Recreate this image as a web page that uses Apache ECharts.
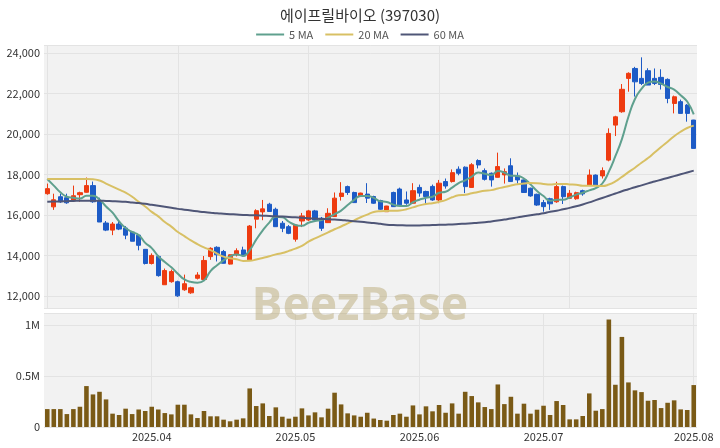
<!DOCTYPE html>
<html>
<head>
<meta charset="utf-8">
<script src="https://cdn.jsdelivr.net/npm/echarts@6/dist/echarts.min.js"></script>
<style>html,body{margin:0;padding:0;background:#fff}#c{width:720px;height:448px}</style>
</head>
<body>
<div id="c"></div>
<script>
const dates = [
'2025-03-10','2025-03-11','2025-03-12','2025-03-13','2025-03-14','2025-03-17','2025-03-18','2025-03-19','2025-03-20','2025-03-21',
'2025-03-24','2025-03-25','2025-03-26','2025-03-27','2025-03-28','2025-03-31',
'2025-04-01','2025-04-02','2025-04-03','2025-04-04','2025-04-07','2025-04-08','2025-04-09','2025-04-10','2025-04-11','2025-04-14',
'2025-04-15','2025-04-16','2025-04-17','2025-04-18','2025-04-21','2025-04-22','2025-04-23','2025-04-24','2025-04-25','2025-04-28',
'2025-04-29','2025-04-30',
'2025-05-02','2025-05-07','2025-05-08','2025-05-09','2025-05-12','2025-05-13','2025-05-14','2025-05-15','2025-05-16','2025-05-19',
'2025-05-20','2025-05-21','2025-05-22','2025-05-23','2025-05-26','2025-05-27','2025-05-28','2025-05-29','2025-05-30',
'2025-06-02','2025-06-04','2025-06-05','2025-06-09','2025-06-10','2025-06-11','2025-06-12','2025-06-13','2025-06-16','2025-06-17',
'2025-06-18','2025-06-19','2025-06-20','2025-06-23','2025-06-24','2025-06-25','2025-06-26','2025-06-27','2025-06-30',
'2025-07-01','2025-07-02','2025-07-03','2025-07-04','2025-07-07','2025-07-08','2025-07-09','2025-07-10','2025-07-11','2025-07-14',
'2025-07-15','2025-07-16','2025-07-17','2025-07-18','2025-07-21','2025-07-22','2025-07-23','2025-07-24','2025-07-25','2025-07-28',
'2025-07-29','2025-07-30','2025-07-31',
'2025-08-01'
];
const opens = [17050,16400,16900,16850,16700,17000,17120,17450,16700,15600,
15250,15550,15350,15150,15000,14300,13600,13950,12550,12700,
12700,12300,12150,12870,12810,13940,14400,14190,13570,14030,
14270,13780,15790,16150,16530,16280,15590,15420,14800,15700,
15750,16200,15840,15620,15920,16910,17400,17110,16910,17030,
16910,16710,16160,17110,17280,16740,16580,17360,17160,17410,
16740,17650,17650,18260,18360,17360,18690,18190,18060,17860,
17980,18430,17930,17730,17320,17020,16610,16800,16650,17400,
16820,16800,17200,17480,17970,17930,18710,20440,21100,22750,
23240,22750,23130,22750,22800,22700,21510,21600,21430,20690];
const closes = [17300,16750,16650,16600,16950,17100,17450,16650,15650,15250,
15550,15300,15000,14700,14500,13600,14000,13000,13250,13200,
12000,12600,12400,13030,13750,14350,14030,13610,14030,14230,
13980,15450,16210,16300,16170,15420,15340,15090,15500,15950,
16200,15750,15340,16080,16830,17080,17110,16610,17080,16830,
16580,16280,16440,16410,16500,16580,17200,17080,16910,16740,
17570,17430,18090,18060,17400,18480,18470,17760,17730,18390,
18140,17650,17730,17110,16940,16490,16410,16550,17400,16900,
17070,17100,17040,17970,17480,18190,20030,20850,22210,23000,
22580,22500,22420,22500,22450,21760,21840,21020,21020,19290];
const lows = [17000,16250,16600,16550,16650,16650,17100,16600,15650,15200,
15000,15250,14800,14700,14250,13550,13550,12950,12550,12650,
11950,12250,12100,12810,12800,13780,13700,13600,13550,13950,
13950,13750,15340,15740,16150,15420,15150,15050,14680,15400,
15700,15700,15210,15600,15900,16710,16990,16610,16900,16590,
16550,16250,16150,16400,16450,16500,16550,16900,16500,16700,
16580,17300,17600,17960,17080,17350,18300,17700,17400,17850,
17550,17650,17550,17100,16900,16450,16160,16250,16600,16540,
16800,16750,16950,17450,17450,17800,18650,19900,21050,22090,
21850,22420,22420,22420,22200,21520,21020,21020,20610,19290];
const highs = [17550,17050,17050,17050,17450,17150,17850,17650,16850,15700,
15650,15700,15450,15200,15050,14300,14100,14000,13350,13300,
12750,13050,12450,13170,13970,14400,14450,14270,14050,14350,
14430,15500,16280,16740,16600,16360,15700,15500,15550,16100,
16250,16250,15900,16330,17110,17620,17450,17150,17100,17570,
16950,16750,16450,17150,17350,17160,17570,17500,17200,17500,
17730,17800,18250,18400,18400,18560,18750,18300,18100,19080,
18300,18800,18100,17750,17350,17050,16740,16850,17640,17450,
17230,17150,17250,18250,18000,18350,20280,20900,22470,23050,
23320,23790,23250,23240,23200,22750,21900,21700,21480,20700];
const volumes = [176000,176000,176000,127000,176000,199000,402000,320000,346000,271000,
131000,118000,180000,127000,172000,157000,199000,172000,137000,124000,
219000,219000,124000,88000,157000,105000,105000,72000,56000,72000,
85000,379000,206000,232000,108000,193000,101000,82000,101000,183000,
114000,144000,95000,180000,337000,222000,134000,114000,101000,140000,
83000,69000,62000,118000,131000,101000,212000,124000,203000,154000,
216000,140000,232000,131000,346000,304000,242000,196000,176000,418000,
225000,297000,131000,229000,131000,170000,209000,118000,255000,216000,
75000,75000,108000,330000,160000,176000,1056000,415000,885000,438000,
360000,343000,258000,265000,186000,238000,262000,173000,167000,412000];
const ma5 = [17780,17450,17120,16900,16850,16810,16950,16950,16760,16420,
16110,15680,15350,15160,15010,14620,14360,13960,13670,13410,
13090,12810,12690,12646,12756,13226,13512,13754,13954,14050,
13976,14260,14780,15234,15622,15910,15888,15664,15504,15460,
15616,15698,15748,15864,16040,16216,16488,16742,16942,16942,
16842,16676,16642,16508,16442,16442,16626,16754,16854,16902,
17100,17146,17348,17578,17710,17892,18100,18034,17968,18166,
18098,17934,17928,17802,17512,17182,16934,16698,16756,16748,
16864,17002,17100,17214,17330,17554,18140,18902,19750,20854,
21732,22226,22540,22598,22488,22324,22192,21912,21608,20974];
const ma20 = [17780,17780,17780,17780,17780,17780,17780,17770,17700,17550,
17400,17250,17100,16900,16650,16420,16150,15930,15650,15422,
15158,14950,14738,14559,14399,14262,14091,13939,13858,13807,
13728,13736,13796,13876,13960,14051,14118,14222,14335,14472,
14682,14840,14987,15139,15293,15430,15584,15734,15886,16016,
16146,16188,16199,16205,16221,16279,16372,16472,16542,16582,
16650,16734,16872,16971,16999,17069,17137,17195,17227,17305,
17383,17452,17516,17551,17573,17569,17529,17503,17527,17535,
17510,17494,17441,17437,17441,17426,17504,17659,17883,18113,
18335,18578,18812,19082,19357,19621,19892,20116,20297,20416];
const ma60 = [16650,16660,16670,16680,16690,16700,16700,16700,16700,16690,
16680,16670,16650,16620,16590,16550,16500,16450,16400,16350,
16300,16260,16220,16180,16140,16110,16080,16060,16040,16020,
16000,15990,15980,15960,15950,15930,15920,15900,15880,15860,
15840,15820,15800,15790,15770,15750,15720,15690,15660,15630,
15600,15560,15520,15500,15490,15480,15480,15480,15490,15500,
15510,15520,15530,15550,15570,15590,15610,15640,15680,15720,
15770,15820,15880,15930,15980,16030,16080,16160,16210,16280,
16350,16430,16520,16620,16730,16840,16950,17060,17170,17270,
17370,17460,17560,17650,17740,17830,17920,18010,18100,18190];
const monthStarts = ['2025-04-01','2025-05-02','2025-06-02','2025-07-01','2025-08-01'];
const monthLabels = ['2025.04','2025.05','2025.06','2025.07','2025.08'];

const UP = '#ee3b10', DOWN = '#1d5bc6';
const candleData = dates.map((d, i) => [opens[i], closes[i], lows[i], highs[i]]);
const volData = volumes.map((v, i) => ({value: v}));

const chart = echarts.init(document.getElementById('c'), null, {renderer: 'canvas'});
const fontFam = "'Noto Sans CJK KR','Noto Sans',sans-serif";
chart.setOption({
  animation: false,
  backgroundColor: '#ffffff',
  textStyle: {fontFamily: fontFam},
  title: {
    text: '에이프릴바이오 (397030)', left: 'center', top: 3,
    textStyle: {fontSize: 15, fontWeight: 'normal', color: '#333', fontFamily: fontFam}
  },
  legend: {
    top: 24, left: 'center', itemWidth: 28, itemHeight: 2, itemGap: 12, icon: 'rect',
    data: ['5 MA', '20 MA', '60 MA'],
    textStyle: {fontSize: 11, color: '#555', fontFamily: fontFam}
  },
  graphic: [{
    type: 'text', left: 'center', top: 284, z: 100, silent: true,
    style: {text: 'BeezBase', fontSize: 46, fontWeight: 'bold', fontFamily: "'Noto Sans',sans-serif",
      fill: 'rgba(185,170,120,0.5)'}
  }],
  grid: [
    {left: 44, right: 23, top: 45, height: 263, show: true, backgroundColor: '#f2f2f2', borderWidth: 0},
    {left: 44, right: 23, top: 313, bottom: 21, show: true, backgroundColor: '#f2f2f2', borderWidth: 0}
  ],
  xAxis: [
    {type: 'category', gridIndex: 0, data: dates, boundaryGap: true,
      axisLine: {show: false}, axisTick: {show: false}, axisLabel: {show: false},
      splitLine: {show: true, interval: (i) => i % 20 === 0, alignWithLabel: true, lineStyle: {color: '#e3e3e3', width: 1}}},
    {type: 'category', gridIndex: 1, data: dates, boundaryGap: true,
      axisLine: {show: false}, axisTick: {show: false},
      axisLabel: {interval: (i, v) => monthStarts.indexOf(v) >= 0, margin: 4, fontSize: 11, color: '#333',
        formatter: (v) => { const k = monthStarts.indexOf(v); return k >= 0 ? monthLabels[k] : ''; }},
      splitLine: {show: true, interval: (i, v) => monthStarts.indexOf(v) >= 0, alignWithLabel: true, lineStyle: {color: '#e3e3e3', width: 1}}}
  ],
  yAxis: [
    {type: 'value', gridIndex: 0, min: 11400, max: 24400, splitNumber: 6, scale: true,
      axisLine: {show: false}, axisTick: {show: false},
      axisLabel: {margin: 4, fontSize: 11, color: '#333', showMinLabel: false, showMaxLabel: false,
        formatter: (v) => (v === 11400 || v === 24400) ? '' : v.toLocaleString('en-US')},
      splitLine: {lineStyle: {color: '#e3e3e3'}}},
    {type: 'value', gridIndex: 1, min: 0, max: 1120000, interval: 500000,
      axisLine: {show: false}, axisTick: {show: false},
      axisLabel: {margin: 4, fontSize: 11, color: '#333', showMaxLabel: false,
        formatter: (v) => v === 0 ? '0' : (v % 500000 === 0 ? (v / 1000000) + 'M' : '')},
      splitLine: {lineStyle: {color: '#e3e3e3'}}}
  ],
  series: [
    {name: 'candle', type: 'candlestick', xAxisIndex: 0, yAxisIndex: 0, data: candleData, barWidth: '72%',
      itemStyle: {color: UP, color0: DOWN, borderColor: UP, borderColor0: DOWN, borderWidth: 1}},
    {name: '5 MA', type: 'line', xAxisIndex: 0, yAxisIndex: 0, data: ma5, smooth: true, showSymbol: false, symbol: 'none',
      lineStyle: {width: 2, color: '#5fa08e'}, itemStyle: {color: '#5fa08e'}},
    {name: '20 MA', type: 'line', xAxisIndex: 0, yAxisIndex: 0, data: ma20, smooth: true, showSymbol: false, symbol: 'none',
      lineStyle: {width: 2, color: '#d8c064'}, itemStyle: {color: '#d8c064'}},
    {name: '60 MA', type: 'line', xAxisIndex: 0, yAxisIndex: 0, data: ma60, smooth: true, showSymbol: false, symbol: 'none',
      lineStyle: {width: 2, color: '#4f5677'}, itemStyle: {color: '#4f5677'}},
    {name: 'volume', type: 'bar', xAxisIndex: 1, yAxisIndex: 1, data: volData, barWidth: '70%',
      itemStyle: {color: '#7a5a16'}}
  ]
});
</script>
</body>
</html>
